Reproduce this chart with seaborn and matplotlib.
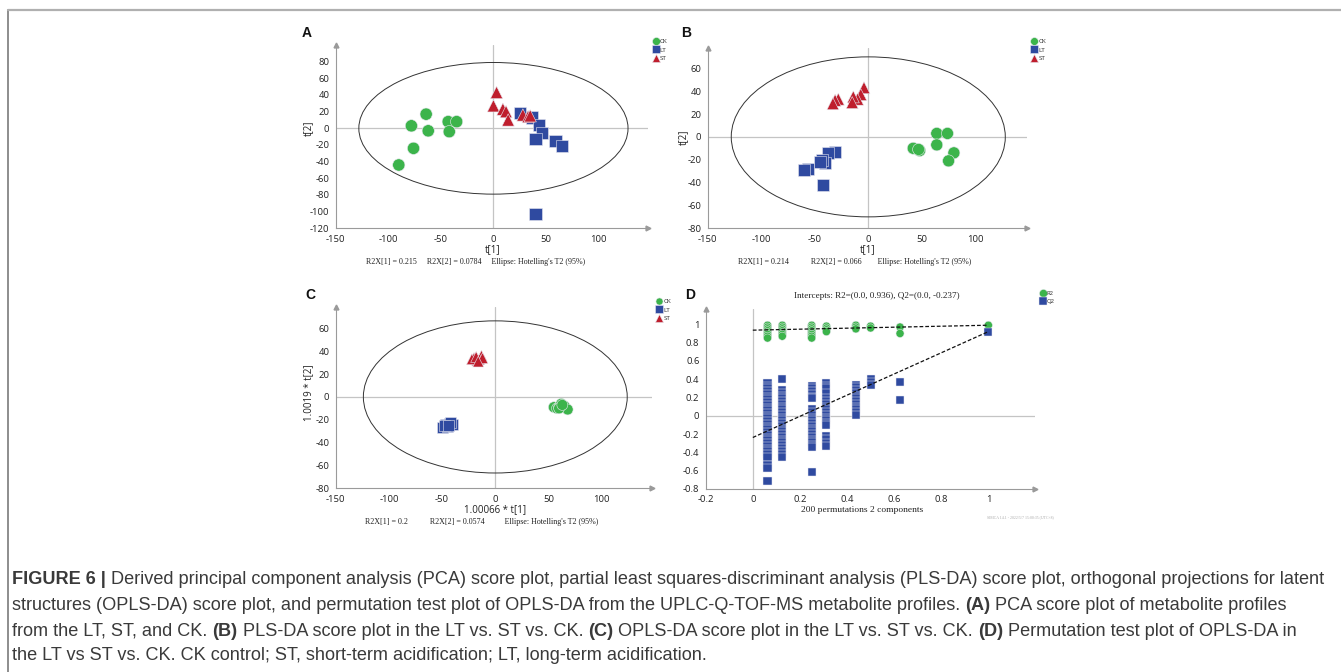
#Score plots (PCA, PLS-DA, OPLS-DA) and permutation test of OPLS-DA
import numpy as np
import pandas as pd
import matplotlib
matplotlib.use('Agg')
import matplotlib.pyplot as plt
import seaborn as sns
from matplotlib.patches import Ellipse
from matplotlib.lines import Line2D
from matplotlib.transforms import IdentityTransform
from matplotlib.ticker import AutoMinorLocator, FuncFormatter
from matplotlib import font_manager

groups = ['CK', 'LT', 'ST']

#Panel A - PCA scores
a_ck_x = [-90, -78, -76, -64, -62, -43, -42, -35]
a_ck_y = [-44, 3, -24, 17, -3, 8, -4, 8]
a_lt_x = [25, 37, 43, 46, 40, 59, 65, 40]
a_lt_y = [18, 13, 4, -6, -13, -15, -21, -103]
a_st_x = [3, 0, 9, 12, 14, 28, 33, 35]
a_st_y = [43, 27, 23, 20, 10, 16, 14, 15]
a_ellipse = (128, 79)

#Panel B - PLS-DA scores
b_ck_x = [64, 74, 64, 42, 48, 80, 75, 47]
b_ck_y = [3, 3, -7, -10, -12, -14, -21, -11]
b_lt_x = [-31, -38, -40, -43, -45, -56, -60, -42]
b_lt_y = [-13, -14, -23, -20, -22, -28, -29, -42]
b_st_x = [-4, -7, -10, -14, -15, -28, -31, -33]
b_st_y = [43, 37, 33, 35, 30, 33, 32, 29]
b_ellipse = (128, 70)

#Panel C - OPLS-DA scores
c_ck_x = [55, 58, 60, 62, 65, 68, 60, 63]
c_ck_y = [-9, -10, -9, -6, -8, -11, -10, -7]
c_lt_x = [-50, -47, -43, -40, -45, -42, -48, -44]
c_lt_y = [-27, -24, -23, -24, -26, -22, -25, -25]
c_st_x = [-13, -20, -17, -15, -22, -18, -12, -16]
c_st_y = [36, 34, 32, 33, 33, 35, 34, 31]
c_ellipse = (124, 66.6)

#Panel D - permutation test (correlation of permuted y vs R2 / Q2)
perm_x = [0.0625, 0.125, 0.25, 0.3125, 0.4375, 0.5, 0.625, 1.0]
r2_0625 = [0.99, 0.97, 0.95, 0.93, 0.91, 0.89, 0.87, 0.85]
r2_125 = [0.99, 0.97, 0.95, 0.93, 0.91, 0.89, 0.87]
r2_25 = [0.99, 0.97, 0.95, 0.93, 0.91, 0.89, 0.87, 0.85]
r2_3125 = [0.98, 0.96, 0.94, 0.92]
r2_4375 = [0.99, 0.97, 0.95]
r2_5 = [0.98, 0.96]
r2_625 = [0.97, 0.90]
r2_1 = [0.99]
q2_0625 = [0.36, 0.33, 0.30, 0.27, 0.24, 0.21, 0.18, 0.15, 0.12, 0.09, 0.06, 0.03, 0.00,
           -0.03, -0.06, -0.09, -0.12, -0.15, -0.18, -0.21, -0.24, -0.27, -0.30, -0.33,
           -0.36, -0.39, -0.42, -0.45, -0.54, -0.57, -0.71]
q2_125 = [0.40, 0.28, 0.25, 0.22, 0.19, 0.16, 0.13, 0.10, 0.07, 0.04, 0.01, -0.02, -0.05,
          -0.08, -0.11, -0.14, -0.17, -0.20, -0.23, -0.26, -0.29, -0.32, -0.35, -0.38,
          -0.42, -0.45]
q2_25 = [0.33, 0.30, 0.27, 0.24, 0.21, 0.19, 0.07, 0.04, 0.01, -0.02, -0.05, -0.08, -0.11,
         -0.14, -0.17, -0.20, -0.23, -0.26, -0.29, -0.32, -0.34, -0.61]
q2_3125 = [0.36, 0.33, 0.30, 0.25, 0.19, 0.16, 0.13, 0.10, 0.07, 0.04, 0.01, -0.02, -0.05,
           -0.08, -0.10, -0.22, -0.25, -0.30, -0.33]
q2_4375 = [0.34, 0.31, 0.28, 0.25, 0.22, 0.19, 0.16, 0.13, 0.10, 0.07, 0.04, 0.01]
q2_5 = [0.40, 0.37, 0.34]
q2_625 = [0.37, 0.17]
q2_1 = [0.92]
line_x = [0, 1]
r2_line_y = [0.936, 0.99]
q2_line_y = [-0.237, 0.92]

#colours
pal = {'CK': '#3cb44b', 'LT': '#2f4aa0', 'ST': '#bf1e2d'}
mk = {'CK': 'o', 'LT': 's', 'ST': '^'}
grey = '#9a9a9a'
zero_col = '#c4c4c4'

sns.set_theme(style='white')
plt.rcParams['font.family'] = ['Open Sans', 'DejaVu Sans']
plt.rcParams['axes.unicode_minus'] = False
serif = ['Liberation Serif', 'DejaVu Serif']
names = set(f.name for f in font_manager.fontManager.ttflist)
cap_font = ['Liberation Sans Narrow'] if 'Liberation Sans Narrow' in names else ['Liberation Sans', 'DejaVu Sans']

W, H = 1341, 672
fig = plt.figure(figsize=(W / 100, H / 100), dpi=100)
fig.patch.set_facecolor('white')

def fx(x):
    return x / W

def fy(y):
    return 1 - y / H

def axes_px(left, top, right, bottom):
    return fig.add_axes([fx(left), fy(bottom), (right - left) / W, (bottom - top) / H])

def score_df(ck_x, ck_y, lt_x, lt_y, st_x, st_y):
    d = pd.DataFrame({'x': ck_x + lt_x + st_x, 'y': ck_y + lt_y + st_y,
                      'group': ['CK'] * len(ck_x) + ['LT'] * len(lt_x) + ['ST'] * len(st_x)})
    return d

def style_axes(ax, xlim, ylim, xticks, yticks, nminor=5, fmt=None):
    ax.set_facecolor('white')
    for s in ['top', 'right']:
        ax.spines[s].set_visible(False)
    for s in ['left', 'bottom']:
        ax.spines[s].set_color(grey)
        ax.spines[s].set_linewidth(0.8)
    ax.set_xlim(xlim)
    ax.set_ylim(ylim)
    ax.set_xticks(xticks)
    ax.set_yticks(yticks)
    ax.xaxis.set_minor_locator(AutoMinorLocator(nminor))
    ax.yaxis.set_minor_locator(AutoMinorLocator(nminor))
    if fmt is not None:
        ax.xaxis.set_major_formatter(fmt)
        ax.yaxis.set_major_formatter(fmt)
    ax.tick_params(which='major', length=3, width=0.6, color=grey, labelsize=6.8,
                   pad=1.5, labelcolor='#222', direction='out')
    ax.tick_params(which='minor', length=1.8, width=0.5, color=grey, direction='out')
    ax.set_xlabel('')
    ax.set_ylabel('')
    #arrow heads on the axes
    ax.plot([1.0], [0], marker='>', ms=3.5, color=grey, transform=ax.transAxes, clip_on=False)
    ax.plot([0], [1.0], marker='^', ms=3.5, color=grey, transform=ax.transAxes, clip_on=False)

def legend_px(ax, handles, labels, x, y, fs=4.5, scale=0.75):
    ax.legend(handles, labels, loc='upper left', bbox_to_anchor=(x, H - y),
              bbox_transform=IdentityTransform(), frameon=False, fontsize=fs,
              handlelength=0.9, handletextpad=0.2, labelspacing=0.45, borderpad=0,
              borderaxespad=0, markerscale=scale)

def score_panel(ax, df, semi, xlim, ylim, xticks, yticks, size, leg_xy):
    ax.axhline(0, color=zero_col, lw=0.9, zorder=0)
    ax.axvline(0, color=zero_col, lw=0.9, zorder=0)
    ax.add_patch(Ellipse((0, 0), 2 * semi[0], 2 * semi[1], fill=False, ec='#333', lw=0.7, zorder=1))
    sns.scatterplot(data=df, x='x', y='y', hue='group', style='group', hue_order=groups,
                    style_order=groups, palette=pal, markers=mk, s=size, ax=ax,
                    edgecolor='#e8e8f0', linewidth=0.4, zorder=3)
    style_axes(ax, xlim, ylim, xticks, yticks)
    h, l = ax.get_legend_handles_labels()
    keep = [(hh, ll) for hh, ll in zip(h, l) if ll in groups]
    legend_px(ax, [k[0] for k in keep], [k[1] for k in keep], leg_xy[0], leg_xy[1], scale=0.65)

#A
axA = axes_px(335.7, 45, 648, 228.3)
dfA = score_df(a_ck_x, a_ck_y, a_lt_x, a_lt_y, a_st_x, a_st_y)
score_panel(axA, dfA, a_ellipse, (-150, 147), (-120, 100), np.arange(-150, 101, 50),
            np.arange(-120, 81, 20), 78, (653, 39))

#B
axB = axes_px(707.7, 48.3, 1026.7, 228.3)
dfB = score_df(b_ck_x, b_ck_y, b_lt_x, b_lt_y, b_st_x, b_st_y)
score_panel(axB, dfB, b_ellipse, (-150, 148), (-80, 77.5), np.arange(-150, 101, 50),
            np.arange(-80, 61, 20), 75, (1031.5, 39))

#C
axC = axes_px(335.7, 306.7, 651.7, 488.3)
dfC = score_df(c_ck_x, c_ck_y, c_lt_x, c_lt_y, c_st_x, c_st_y)
score_panel(axC, dfC, c_ellipse, (-150, 147), (-80, 79), np.arange(-150, 101, 50),
            np.arange(-80, 61, 20), 62, (656.5, 299))

#D
axD = axes_px(705.7, 309.3, 1035, 489)
r2_cols = [r2_0625, r2_125, r2_25, r2_3125, r2_4375, r2_5, r2_625, r2_1]
q2_cols = [q2_0625, q2_125, q2_25, q2_3125, q2_4375, q2_5, q2_625, q2_1]
rows = []
for xv, vals in zip(perm_x, r2_cols):
    rows += [(xv, v, 'R2') for v in vals]
for xv, vals in zip(perm_x, q2_cols):
    rows += [(xv, v, 'Q2') for v in vals]
dfD = pd.DataFrame(rows, columns=['x', 'y', 'metric'])
axD.axhline(0, color=zero_col, lw=0.9, zorder=0)
axD.axvline(0, color=zero_col, lw=0.9, zorder=0)
sns.scatterplot(data=dfD, x='x', y='y', hue='metric', style='metric', hue_order=['R2', 'Q2'],
                style_order=['R2', 'Q2'], palette={'R2': pal['CK'], 'Q2': pal['LT']},
                markers={'R2': 'o', 'Q2': 's'}, s=34, ax=axD, edgecolor='#e8e8f0',
                linewidth=0.35, zorder=3)
axD.plot(line_x, r2_line_y, color='#111', lw=0.9, ls=(0, (3, 1.6)), zorder=4)
axD.plot(line_x, q2_line_y, color='#111', lw=0.9, ls=(0, (3, 1.6)), zorder=4)
style_axes(axD, (-0.2, 1.198), (-0.8, 1.164), [-0.2, 0, 0.2, 0.4, 0.6, 0.8, 1],
           [-0.8, -0.6, -0.4, -0.2, 0, 0.2, 0.4, 0.6, 0.8, 1], nminor=4,
           fmt=FuncFormatter(lambda v, p: '%g' % round(v, 2)))
h, l = axD.get_legend_handles_labels()
keep = [(hh, ll) for hh, ll in zip(h, l) if ll in ['R2', 'Q2']]
legend_px(axD, [k[0] for k in keep], [k[1] for k in keep], 1040, 291, fs=4.2, scale=1.0)

#panel texts
def ftext(x, y, s, **kw):
    return fig.text(fx(x), fy(y), s, ha=kw.pop('ha', 'center'), va=kw.pop('va', 'center'), **kw)

lab_kw = dict(fontsize=7, color='#222')
ftext(493, 250, 't[1]', **lab_kw)
ftext(308, 128, 't[2]', rotation=90, **lab_kw)
ftext(868, 250, 't[1]', **lab_kw)
ftext(683, 137, 't[2]', rotation=90, **lab_kw)
ftext(495, 510, '1.00066 * t[1]', **lab_kw)
ftext(309, 393, '1.0019 * t[2]', rotation=90, **lab_kw)

sub_kw = dict(fontsize=5.8, color='#222', family=serif)
ftext(476, 262, 'R2X[1] = 0.215     R2X[2] = 0.0784     Ellipse: Hotelling\'s T2 (95%)', **sub_kw)
ftext(855, 262, 'R2X[1] = 0.214           R2X[2] = 0.066        Ellipse: Hotelling\'s T2 (95%)', **sub_kw)
ftext(482, 522, 'R2X[1] = 0.2           R2X[2] = 0.0574          Ellipse: Hotelling\'s T2 (95%)', **sub_kw)
ftext(877, 296, 'Intercepts: R2=(0.0, 0.936), Q2=(0.0, -0.237)', fontsize=6.6, color='#222', family=serif)
ftext(862, 510, '200 permutations 2 components', fontsize=6.8, color='#222', family=serif)
ftext(1020, 517, 'SIMCA 14.1 - 2022/5/7 15:00:35 (UTC+8)', fontsize=2.8, color='#aaa', family=serif)

let_kw = dict(fontsize=10, fontweight='bold', color='#111', family=['Liberation Sans', 'DejaVu Sans'], ha='left')
ftext(302, 33, 'A', **let_kw)
ftext(681, 33, 'B', **let_kw)
ftext(305, 295, 'C', **let_kw)
ftext(685, 295, 'D', **let_kw)

#frame lines of the figure box
fig.add_artist(Line2D([fx(8), fx(8)], [fy(10), 0], color='#7a7a7a', lw=1.2))
fig.add_artist(Line2D([fx(8), 1], [fy(10), fy(10)], color='#b0b0b0', lw=1.6))

#caption, mixed bold / regular segments
cap_lines = [
    [('FIGURE 6 |', True), (' Derived principal component analysis (PCA) score plot, partial least squares-discriminant analysis (PLS-DA) score plot, orthogonal projections for latent', False)],
    [('structures (OPLS-DA) score plot, and permutation test plot of OPLS-DA from the UPLC-Q-TOF-MS metabolite profiles. ', False), ('(A)', True), (' PCA score plot of metabolite profiles', False)],
    [('from the LT, ST, and CK. ', False), ('(B)', True), (' PLS-DA score plot in the LT vs. ST vs. CK. ', False), ('(C)', True), (' OPLS-DA score plot in the LT vs. ST vs. CK. ', False), ('(D)', True), (' Permutation test plot of OPLS-DA in', False)],
    [('the LT vs ST vs. CK. CK control; ST, short-term acidification; LT, long-term acidification.', False)],
]
cap_y = [580, 606, 631, 656]
renderer = fig.canvas.get_renderer()

def draw_line(segs, x0, y, size, keep=True):
    x = x0
    made = []
    for txt, bold in segs:
        t = fig.text(x, H - y, txt, transform=IdentityTransform(), fontsize=size,
                     fontweight='bold' if bold else 'normal', family=cap_font,
                     color='#3a3a3a', ha='left', va='center')
        bb = t.get_window_extent(renderer)
        x = bb.x1
        made.append(t)
    if not keep:
        for t in made:
            t.remove()
    return x - x0

w = draw_line(cap_lines[0], 12, cap_y[0], 10, keep=False)
cap_size = 10 * 1318 / w
for segs, yy in zip(cap_lines, cap_y):
    draw_line(segs, 12, yy, cap_size)

plt.savefig('out.png', dpi=100, facecolor='white')
